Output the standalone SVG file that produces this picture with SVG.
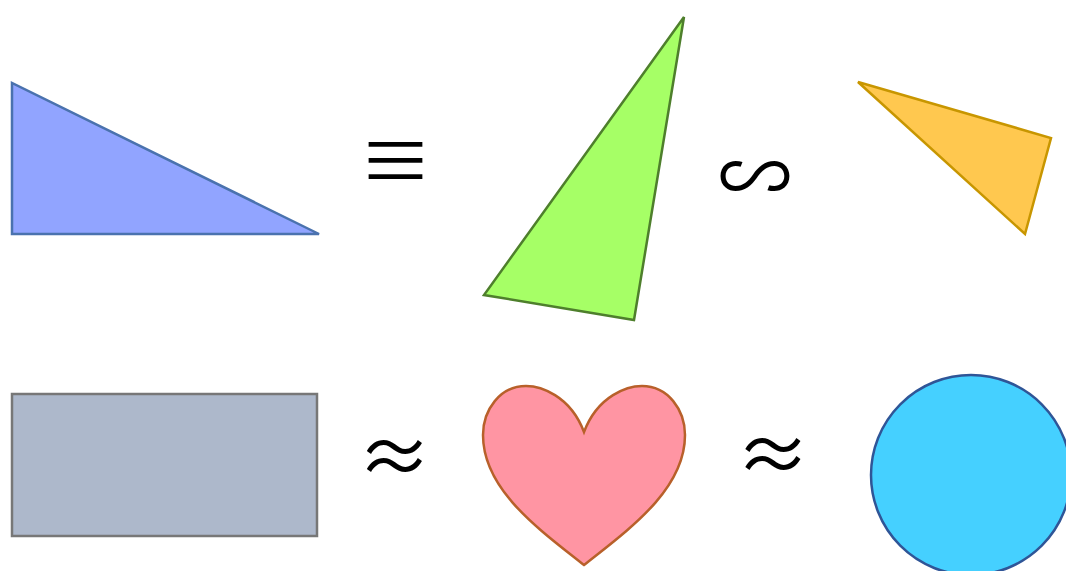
<svg xmlns="http://www.w3.org/2000/svg" width="1066" height="571" viewBox="0 0 1066 571">
<style>
.sym{font-family:"Noto Sans CJK SC","DejaVu Sans",sans-serif;font-size:74px;fill:#000;text-anchor:middle}
.sh{stroke-width:2.5;stroke-linejoin:miter}
</style>
<rect width="1066" height="571" fill="#fff"/>
<g id="triangle-blue"><polygon class="sh" points="12,83 12,234 319,234" fill="#91A4FF" stroke="#4A72AE"/></g>
<g id="triangle-green"><polygon class="sh" points="684,17 484,295 634,320" fill="#A6FF66" stroke="#4E7F2C"/></g>
<g id="triangle-orange"><polygon class="sh" points="858,82 1051,138 1025,234" fill="#FFC84F" stroke="#C89600"/></g>
<g id="rect-gray"><rect class="sh" x="12" y="394" width="305" height="142" fill="#ADB8CB" stroke="#777"/></g>
<g id="heart"><path class="sh" d="M584,432 C570,395 540,386 526,386 C500,386 483,410 483,435 C483,490 540,530 584,565 C628,530 685,490 685,435 C685,410 668,386 642,386 C628,386 598,395 584,432 Z" fill="#FF95A3" stroke="#B8602A"/></g>
<g id="circle"><circle class="sh" cx="971" cy="475" r="100" fill="#45D0FF" stroke="#2F5597"/></g>
<g id="symbols">
<text class="sym" x="395.5" y="188">≡</text>
<text class="sym" x="755" y="204">∽</text>
<text class="sym" x="394.5" y="484">≈</text>
<text class="sym" x="773" y="482">≈</text>
</g>
</svg>
